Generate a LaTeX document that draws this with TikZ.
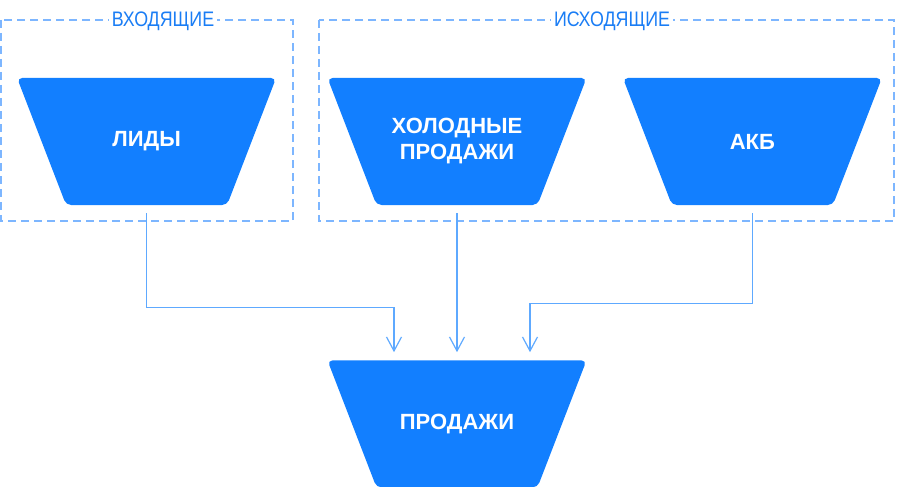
\documentclass[tikz,border=0pt]{standalone}
\usepackage{fontspec}
\setmainfont{Liberation Sans}
\newfontfamily\narrowfont[FakeStretch=0.85]{Liberation Sans}
\usetikzlibrary{arrows.meta, positioning, calc}
\definecolor{myBlue}{HTML}{127FFF}
\definecolor{myDash}{HTML}{7DB6FF}
\definecolor{myLine}{HTML}{5EA9FF}
\definecolor{myLabel}{HTML}{1A7DF5}

\begin{document}
\begin{tikzpicture}[x=1pt, y=-1pt,
funnel/.style={rectangle, minimum width=259pt, minimum height=127pt, inner sep=0pt, text=white, align=center, font=\fontsize{22}{26}\selectfont\bfseries,
  path picture={\fill[myBlue, rounded corners=5pt] (path picture bounding box.north west) -- (path picture bounding box.north east) -- ([xshift=-49pt]path picture bounding box.south east) -- ([xshift=49pt]path picture bounding box.south west) -- cycle;}},
group/.style={draw=myDash, line width=1.5pt, dash pattern=on 8pt off 5pt},
grouplabel/.style={fill=white, inner sep=3pt, text=myLabel, font=\fontsize{21}{21}\selectfont\narrowfont},
arrow/.style={-{Straight Barb[length=14pt, width=15pt]}, myLine, line width=1.2pt}
]
\useasboundingbox (0,0) rectangle (897,487);

% groups
\draw[group] (1,20) rectangle (293,221);
\draw[group] (319,20) rectangle (894,221);

% funnels
\node[funnel] (cold) at (457,141.5) {ХОЛОДНЫЕ\\ПРОДАЖИ};
\node[funnel, left=51pt of cold] (lid) {ЛИДЫ};
\node[funnel, right=36pt of cold] (akb) {АКБ};
\node[funnel, below=155pt of cold] (prod) {ПРОДАЖИ};

\node[grouplabel, anchor=base] (inLabel) at (163,26.5) {ВХОДЯЩИЕ};
\node[grouplabel, anchor=base] (outLabel) at (612,26.5) {ИСХОДЯЩИЕ};

% connectors
\draw[arrow] ([yshift=-8pt]lid.south) |- ([xshift=-63pt, yshift=53pt]prod.north) -- ([xshift=-63pt, yshift=8pt]prod.north);
\draw[arrow] ([yshift=-8pt]cold.south) -- ([yshift=8pt]prod.north);
\draw[arrow] ([yshift=-8pt]akb.south) |- ([xshift=73pt, yshift=57pt]prod.north) -- ([xshift=73pt, yshift=8pt]prod.north);
\end{tikzpicture}
\end{document}
